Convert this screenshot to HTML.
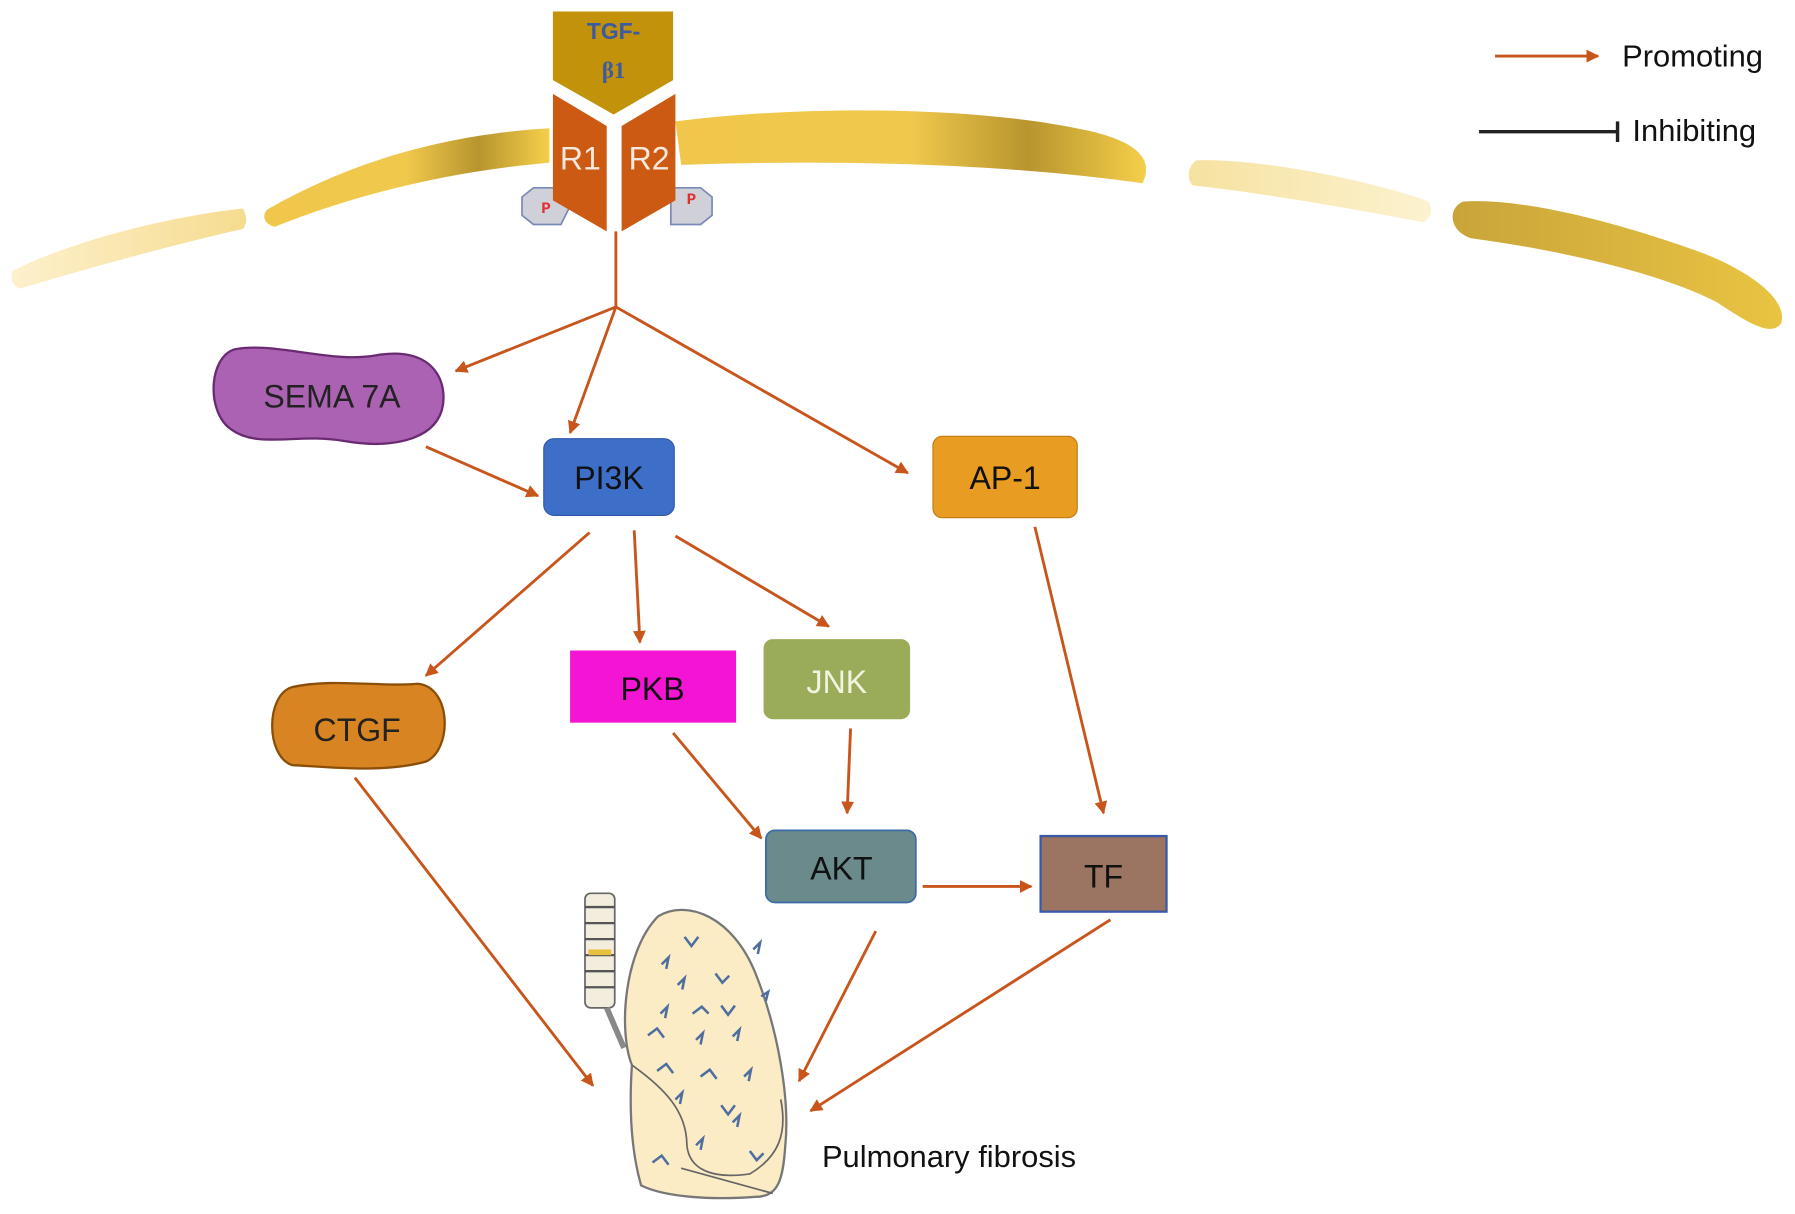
<!DOCTYPE html>
<html><head><meta charset="utf-8"><style>html,body{margin:0;padding:0;background:#fff}svg{display:block}</style></head>
<body>
<svg width="1795" height="1214" viewBox="0 0 1568 1060" preserveAspectRatio="none" xmlns="http://www.w3.org/2000/svg" font-family="Liberation Sans, sans-serif">
<defs>
<marker id="a" viewBox="0 0 10 10" refX="9" refY="5" markerWidth="4.5" markerHeight="4.5" orient="auto"><path d="M0,0L10,5L0,10z" fill="#c8561c"/></marker>
<linearGradient id="m1" x1="0" x2="1"><stop offset="0" stop-color="#fdf0cc"/><stop offset="1" stop-color="#f6dc90"/></linearGradient>
<linearGradient id="m2" x1="0" x2="1"><stop offset="0" stop-color="#f0c74a"/><stop offset="0.5" stop-color="#f0c84c"/><stop offset="0.75" stop-color="#b8952e"/><stop offset="1" stop-color="#f5cf4a"/></linearGradient>
<linearGradient id="m3" x1="0" x2="1"><stop offset="0" stop-color="#f6e2a0"/><stop offset="1" stop-color="#fcf2d0"/></linearGradient>
<linearGradient id="m4" x1="0" x2="1"><stop offset="0" stop-color="#c9a43a"/><stop offset="1" stop-color="#e9c442"/></linearGradient>
</defs>
<!-- membrane -->
<path d="M12,236 C60,212 140,190 212,182 C216,188 216,196 212,200 C150,214 70,236 18,252 C10,250 8,240 12,236 Z" fill="url(#m1)"/>
<path d="M235,182 C300,145 380,118 480,112 L480,142 C390,150 310,170 240,198 C230,196 228,186 235,182 Z" fill="url(#m2)"/>
<path d="M590,106 C700,92 850,92 950,114 C995,124 1008,140 998,160 C900,146 760,138 595,144 Z" fill="url(#m2)"/>
<path d="M1045,140 C1100,138 1200,158 1248,176 C1252,184 1250,190 1243,194 C1180,182 1100,168 1042,162 C1036,156 1038,144 1045,140 Z" fill="url(#m3)"/>
<path d="M1278,176 C1330,172 1420,196 1490,222 C1530,238 1562,262 1556,282 C1548,294 1530,284 1500,264 C1450,238 1360,218 1285,208 C1266,202 1264,182 1278,176 Z" fill="url(#m4)"/>
<!-- receptor -->
<path d="M483,10 L588,10 L588,70 L536,100 L483,70 Z" fill="#c2920a"/>
<text x="536" y="34" text-anchor="middle" font-size="20" font-weight="bold" fill="#3b5aa0">TGF-</text>
<text x="536" y="68" text-anchor="middle" font-size="20" font-weight="bold" fill="#3b5aa0" font-family="Liberation Serif, serif">β1</text>
<polygon points="456,172 466,164 490,164 498,180 490,196 466,196 456,188" fill="#d0d0d8" stroke="#7a8ab8" stroke-width="1.5"/>
<polygon points="586,164 612,164 622,172 622,188 612,196 586,196" fill="#d0d0d8" stroke="#7a8ab8" stroke-width="1.5"/>
<text x="477" y="186" text-anchor="middle" font-size="14" font-weight="bold" fill="#e03030" font-family="Liberation Mono, monospace">P</text>
<text x="604" y="178" text-anchor="middle" font-size="14" font-weight="bold" fill="#e03030" font-family="Liberation Mono, monospace">P</text>
<path d="M483,82 L530,110 L530,202 L483,175 Z" fill="#cc5a12"/>
<path d="M543,110 L590,82 L590,175 L543,202 Z" fill="#cc5a12"/>
<text x="507" y="148" text-anchor="middle" font-size="28" fill="#f6e8dc">R1</text>
<text x="567" y="148" text-anchor="middle" font-size="28" fill="#f6e8dc">R2</text>
<!-- stem and branches -->
<g stroke="#c8561c" stroke-width="2.5" fill="none">
<line x1="538" y1="202" x2="538" y2="268"/>
<line x1="538" y1="268" x2="398" y2="324" marker-end="url(#a)"/>
<line x1="538" y1="268" x2="498" y2="378" marker-end="url(#a)"/>
<line x1="538" y1="268" x2="793" y2="413" marker-end="url(#a)"/>
<line x1="372" y1="390" x2="470" y2="433" marker-end="url(#a)"/>
<line x1="515" y1="465" x2="372" y2="590" marker-end="url(#a)"/>
<line x1="554" y1="463" x2="559" y2="561" marker-end="url(#a)"/>
<line x1="590" y1="468" x2="724" y2="547" marker-end="url(#a)"/>
<line x1="904" y1="460" x2="964" y2="710" marker-end="url(#a)"/>
<line x1="588" y1="640" x2="665" y2="732" marker-end="url(#a)"/>
<line x1="743" y1="636" x2="740" y2="710" marker-end="url(#a)"/>
<line x1="806" y1="774" x2="901" y2="774" marker-end="url(#a)"/>
<line x1="310" y1="679" x2="518" y2="948" marker-end="url(#a)"/>
<line x1="765" y1="813" x2="698" y2="944" marker-end="url(#a)"/>
<line x1="970" y1="803" x2="708" y2="970" marker-end="url(#a)"/>
<line x1="1306" y1="49" x2="1396" y2="49" marker-end="url(#a)"/>
</g>
<line x1="1292" y1="115" x2="1413" y2="115" stroke="#222" stroke-width="3"/>
<line x1="1413" y1="106" x2="1413" y2="124" stroke="#222" stroke-width="3"/>
<text x="1417" y="58" font-size="27" fill="#111">Promoting</text>
<text x="1426" y="123" font-size="27" fill="#111">Inhibiting</text>
<!-- nodes -->
<path d="M205,305 C240,298 290,318 330,310 C380,302 392,335 386,358 C378,385 340,392 300,385 C260,378 225,392 202,375 C180,360 182,312 205,305 Z" fill="#ab62b3" stroke="#6a2a72" stroke-width="2"/>
<text x="290" y="356" text-anchor="middle" font-size="28" fill="#222">SEMA 7A</text>
<rect x="475" y="383" width="114" height="67" rx="9" fill="#3d6fc9" stroke="#2f58a8"/>
<text x="532" y="427" text-anchor="middle" font-size="28" fill="#111">PI3K</text>
<rect x="815" y="381" width="126" height="71" rx="8" fill="#e89c22" stroke="#c07a10"/>
<text x="878" y="427" text-anchor="middle" font-size="28" fill="#111">AP-1</text>
<path d="M255,600 C290,592 330,600 365,597 C395,600 395,655 372,665 C335,675 290,670 255,668 C232,660 232,607 255,600 Z" fill="#d98422" stroke="#8a4e08" stroke-width="2"/>
<text x="312" y="647" text-anchor="middle" font-size="28" fill="#222">CTGF</text>
<rect x="498" y="568" width="145" height="63" fill="#f414d4"/>
<text x="570" y="611" text-anchor="middle" font-size="28" fill="#111">PKB</text>
<rect x="667" y="558" width="128" height="70" rx="8" fill="#9aac5a"/>
<text x="731" y="605" text-anchor="middle" font-size="28" fill="#f0f4e0">JNK</text>
<rect x="669" y="725" width="131" height="63" rx="8" fill="#6a8a8c" stroke="#3a6aa8" stroke-width="1.5"/>
<text x="735" y="768" text-anchor="middle" font-size="28" fill="#111">AKT</text>
<rect x="909" y="730" width="110" height="66" fill="#9c7462" stroke="#3a5aa8" stroke-width="2"/>
<text x="964" y="775" text-anchor="middle" font-size="28" fill="#111">TF</text>
<!-- lung -->
<g>
<rect x="511" y="780" width="26" height="100" rx="5" fill="#f2eddc" stroke="#666" stroke-width="1.5"/>
<g stroke="#555" stroke-width="2"><line x1="511" y1="792" x2="537" y2="792"/><line x1="511" y1="806" x2="537" y2="806"/><line x1="511" y1="820" x2="537" y2="820"/><line x1="511" y1="834" x2="537" y2="834"/><line x1="511" y1="848" x2="537" y2="848"/><line x1="511" y1="862" x2="537" y2="862"/></g>
<rect x="514" y="829" width="20" height="5" fill="#e8c040"/>
<path d="M530,880 L545,915" stroke="#888" stroke-width="5"/>
<path d="M575,800 C600,785 640,800 660,850 C680,900 690,960 686,1000 C684,1030 680,1045 660,1045 C620,1048 580,1045 560,1035 C550,1000 550,960 552,930 C540,900 545,830 575,800 Z" fill="#fbecc6" stroke="#777" stroke-width="2"/>
<path d="M552,930 C580,950 600,970 600,1000 C602,1020 620,1030 655,1025 C680,1010 688,990 682,960" fill="none" stroke="#666" stroke-width="1.5"/>
<path d="M595,1020 L675,1042" stroke="#666" stroke-width="1.5"/>
<g fill="none" stroke="#4f6ea0" stroke-width="2.2">
<path d="M598,818 l6,8 l6,-8"/><path d="M658,829 l6,-6 l-2,10"/><path d="M578,842 l6,-6 l-2,10"/><path d="M592,860 l6,-6 l-2,10"/><path d="M625,850 l6,8 l6,-6"/><path d="M665,870 l6,-4 l-2,8"/>
<path d="M577,885 l6,-6 l-2,10"/><path d="M605,885 l8,-6 l6,6"/><path d="M630,878 l6,8 l6,-8"/><path d="M566,904 l8,-6 l6,8"/><path d="M608,908 l6,-6 l-2,10"/><path d="M640,905 l6,-6 l-2,10"/>
<path d="M650,940 l6,-6 l-2,10"/><path d="M574,935 l8,-6 l6,8"/><path d="M612,940 l8,-6 l6,8"/><path d="M640,980 l6,-6 l-2,10"/><path d="M590,960 l6,-6 l-2,10"/><path d="M630,965 l6,8 l6,-8"/><path d="M608,1000 l6,-6 l-2,10"/><path d="M570,1015 l8,-6 l6,8"/><path d="M655,1005 l6,8 l6,-6"/>
</g>
</g>
<text x="718" y="1019" font-size="27" fill="#111">Pulmonary fibrosis</text>
</svg>
</body></html>
